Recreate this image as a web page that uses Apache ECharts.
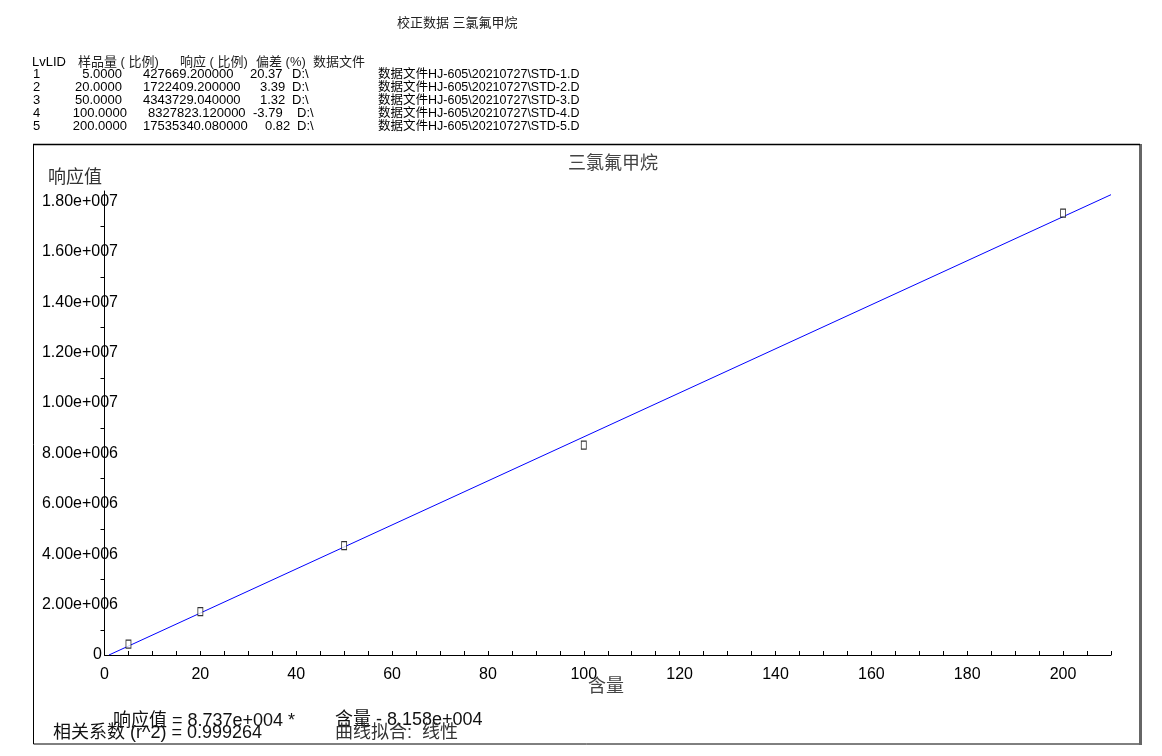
<!DOCTYPE html>
<html>
<head>
<meta charset="utf-8">
<script src="https://cdn.jsdelivr.net/npm/echarts@6/dist/echarts.min.js"></script>
<style>
html,body{margin:0;padding:0;background:#fff;}
#c{width:1162px;height:756px;}
</style>
</head>
<body>
<div id="c"></div>
<script>
// ---- data ----
const levels = ['1','2','3','4','5'];
const conc = [5, 20, 50, 100, 200];
const resp = [427669.2, 1722409.2, 4343729.04, 8327823.12, 17535340.08];
const deviation = ['20.37','3.39','1.32','-3.79','0.82'];
const files = ['STD-1.D','STD-2.D','STD-3.D','STD-4.D','STD-5.D'];
const filePrefix = '数据文件HJ-605\\20210727\\';
const fitX = [0.934, 210];
const fitY = [0, 18266120];
const xTickValues = [0,20,40,60,80,100,120,140,160,180,200];
const xTickLabels = ['0','20','40','60','80','100','120','140','160','180','200'];
const yTickValues = [0,2e6,4e6,6e6,8e6,1e7,1.2e7,1.4e7,1.6e7,1.8e7];
const yTickLabels = ['0','2.00e+006','4.00e+006','6.00e+006','8.00e+006','1.00e+007','1.20e+007','1.40e+007','1.60e+007','1.80e+007'];
const xMax = 210;
const yMax = 18412107;

// ---- layout ----
const LF = '"Liberation Sans", Arial, "Noto Sans CJK SC", sans-serif';
const TS = 13;
const headY = 62;
const rowY = [74.5, 87.5, 100.5, 113.5, 126.5];
const concR = [122, 122, 122, 127, 127];
const respX = [143, 143, 143, 148, 143];
const devX = [250, 260, 260, 253, 265];
const dX = [292, 292, 292, 297, 297];

function txt(text, x, y, size, color, align) {
  return {
    type: 'text', z: 10,
    style: {
      text: text, x: x, y: y,
      font: size + 'px ' + LF,
      fill: color || '#000',
      align: align || 'left', textAlign: align || 'left',
      verticalAlign: 'middle', textVerticalAlign: 'middle'
    }
  };
}

const graphics = [];
graphics.push(txt('校正数据 三氯氟甲烷', 397, 23, 13, '#222'));
graphics.push(txt('LvLID', 32, headY, TS));
graphics.push(txt('样品量 ( 比例)', 78, headY, TS, '#222'));
graphics.push(txt('响应 ( 比例)', 180, headY, TS, '#222'));
graphics.push(txt('偏差 (%)', 256, headY, TS, '#222'));
graphics.push(txt('数据文件', 313, headY, TS, '#222'));
for (let i = 0; i < levels.length; i++) {
  const y = rowY[i];
  graphics.push(txt(levels[i], 33, y, TS));
  graphics.push(txt(conc[i].toFixed(4), concR[i], y, TS, '#000', 'right'));
  graphics.push(txt(resp[i].toFixed(6), respX[i], y, TS));
  graphics.push(txt(deviation[i], devX[i], y, TS));
  graphics.push(txt('D:\\', dX[i], y, TS));
  graphics.push(txt(filePrefix + files[i], 378, y, 12.5));
}
// frame
graphics.push({type:'rect', z:1, shape:{x:33.5, y:144.5, width:1106, height:599.5}, style:{fill:'none', stroke:'#000', lineWidth:1}});
graphics.push({type:'line', z:1, shape:{x1:1140.5, y1:144, x2:1140.5, y2:745}, style:{stroke:'#666', lineWidth:3}});
graphics.push({type:'line', z:1, shape:{x1:33, y1:144.5, x2:1140, y2:144.5}, style:{stroke:'#000', lineWidth:1.5}});
// chart texts
graphics.push(txt('三氯氟甲烷', 613, 164, 18, '#444', 'center'));
graphics.push(txt('响应值', 48, 178, 18, '#333'));
graphics.push(txt('含量', 606, 687, 18, '#444', 'center'));
graphics.push(txt('响应值 = 8.737e+004 *', 113, 721, 18, '#111'));
graphics.push(txt('相关系数 (r^2) = 0.999264', 53, 733, 18, '#111'));
graphics.push(txt('含量 - 8.158e+004', 335, 720, 18, '#111'));
graphics.push(txt('曲线拟合:  线性', 335, 733, 18, '#333'));

const chart = echarts.init(document.getElementById('c'));
const xMinor = [];
for (let v = 0; v <= xMax; v += 5) xMinor.push(v);
const yMinor = [];
for (let v = 1e6; v < yMax; v += 2e6) yMinor.push(v);

chart.setOption({
  animation: false,
  backgroundColor: '#fff',
  grid: {left: 104.5, right: 51, top: 191, bottom: 101, containLabel: false},
  xAxis: [{
    type: 'value', min: 0, max: xMax,
    axisLine: {show: true, onZero: false, lineStyle: {color: '#000', width: 1}},
    axisTick: {show: true, inside: true, length: 4, customValues: xMinor, lineStyle: {color: '#000'}},
    axisLabel: {show: true, customValues: xTickValues, margin: 12, fontSize: 16, color: '#000', fontFamily: LF,
      formatter: function (v) { const i = xTickValues.indexOf(v); return i >= 0 ? xTickLabels[i] : ''; }},
    splitLine: {show: false}
  }],
  yAxis: [{
    type: 'value', min: 0, max: yMax,
    axisLine: {show: true, onZero: false, lineStyle: {color: '#000', width: 1}},
    axisTick: {show: true, inside: false, length: 4, customValues: yMinor, lineStyle: {color: '#000'}},
    axisLabel: {show: true, customValues: yTickValues, margin: -13.5, fontSize: 16, color: '#000', fontFamily: LF,
      formatter: function (v) { const i = yTickValues.indexOf(v); if (i < 0) return ''; return v === 0 ? '{z|' + yTickLabels[i] + '}' : yTickLabels[i]; },
      rich: {z: {fontSize: 16, color: '#000', fontFamily: LF, padding: [0, 16, 0, 0]}}},
    splitLine: {show: false}
  }],
  graphic: graphics,
  series: [
    {
      type: 'line', data: fitX.map((x, i) => [x, fitY[i]]),
      showSymbol: false, symbol: 'none',
      lineStyle: {color: '#0000ff', width: 1}, z: 3
    },
    {
      type: 'scatter', data: conc.map((x, i) => [x, resp[i]]),
      symbol: 'rect', symbolSize: [5, 8],
      itemStyle: {color: '#fff', borderColor: '#000', borderWidth: 1}, z: 4
    }
  ]
});
</script>
</body>
</html>
